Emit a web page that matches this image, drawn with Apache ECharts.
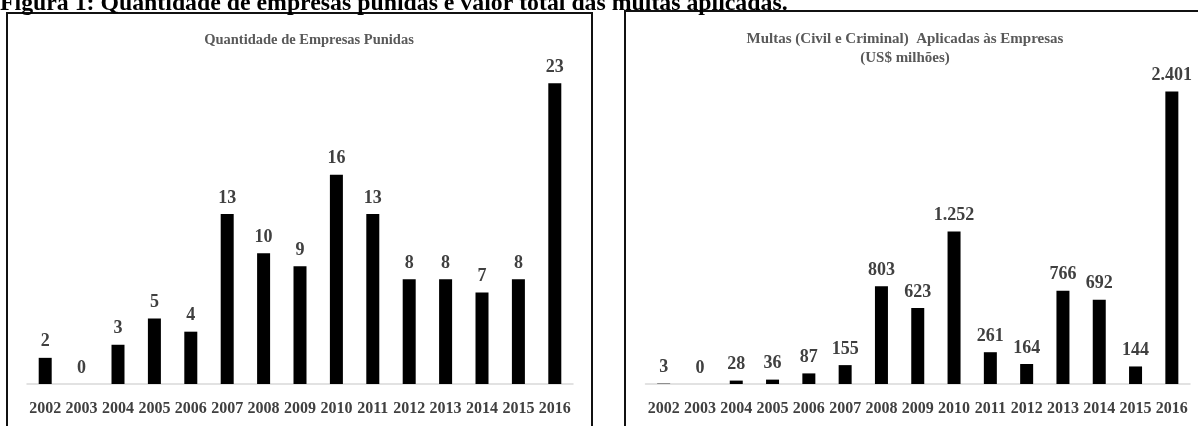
<!DOCTYPE html>
<html>
<head>
<meta charset="utf-8">
<script src="https://cdn.jsdelivr.net/npm/echarts@6/dist/echarts.min.js"></script>
<style>
  html, body { margin: 0; padding: 0; background: #fff; }
  #chart { width: 1198px; height: 426px; }
</style>
</head>
<body>
<div id="chart"></div>
<script>
// Years shown on both category axes
const years = ['2002', '2003', '2004', '2005', '2006', '2007', '2008', '2009',
               '2010', '2011', '2012', '2013', '2014', '2015', '2016'];
// Number of companies punished per year
const punishedCompanies = [2, 0, 3, 5, 4, 13, 10, 9, 16, 13, 8, 8, 7, 8, 23];
// Civil and criminal fines applied, US$ millions
const finesUsdMillions = [3, 0, 28, 36, 87, 155, 803, 623, 1252, 261, 164, 766, 692, 144, 2401];

const caption = 'Figura 1: Quantidade de empresas punidas e valor total das multas aplicadas.';
const leftTitle = 'Quantidade de Empresas Punidas';
const rightTitle = 'Multas (Civil e Criminal)  Aplicadas às Empresas\n(US$ milhões)';

const SERIF = '"Liberation Serif", "Times New Roman", serif';
const fmtThousands = v => String(v).replace(/\B(?=(\d{3})+(?!\d))/g, '.');

const chart = echarts.init(document.getElementById('chart'), null, { renderer: 'canvas' });

function catAxis(gridIndex) {
  return {
    type: 'category', gridIndex, data: years,
    axisLine: { lineStyle: { color: '#d9d9d9', width: 1.5 } },
    axisTick: { show: false },
    axisLabel: { color: '#404040', fontFamily: SERIF, fontWeight: 'bold', fontSize: 16, margin: 17, interval: 0 }
  };
}
function valAxis(gridIndex, max) {
  return { type: 'value', gridIndex, min: 0, max, show: false, splitLine: { show: false } };
}
function barSeries(idx, data, formatter) {
  return {
    type: 'bar', xAxisIndex: idx, yAxisIndex: idx, data,
    barWidth: 13,
    itemStyle: { color: '#000' },
    label: {
      show: true, position: 'top', distance: 7,
      color: '#404040', fontFamily: SERIF, fontWeight: 'bold', fontSize: 18,
      formatter: p => formatter(p.value)
    },
    animation: false
  };
}

chart.setOption({
  animation: false,
  grid: [
    { left: 27, top: 57, width: 546, height: 327 },
    { left: 645.5, top: 67.3, width: 544.5, height: 316.7 }
  ],
  xAxis: [catAxis(0), catAxis(1)],
  yAxis: [valAxis(0, 25), valAxis(1, 2600)],
  series: [
    barSeries(0, punishedCompanies, v => String(v)),
    barSeries(1, finesUsdMillions, fmtThousands)
  ],
  graphic: [
    { type: 'rect', shape: { x: 7, y: 13, width: 585, height: 440 },
      style: { fill: 'none', stroke: '#111', lineWidth: 2 }, silent: true },
    { type: 'rect', shape: { x: 625, y: 11, width: 620, height: 440 },
      style: { fill: 'none', stroke: '#111', lineWidth: 2 }, silent: true },
    { type: 'text', x: 0, y: -8,
      style: { text: caption, font: 'bold 23.8px ' + SERIF, fill: '#000', verticalAlign: 'top' } },
    { type: 'text', x: 309, y: 40,
      style: { text: leftTitle, font: 'bold 14.5px ' + SERIF, fill: '#595959', align: 'center', verticalAlign: 'middle' } },
    { type: 'text', x: 905, y: 49,
      style: { text: rightTitle, font: 'bold 15px ' + SERIF, fill: '#595959', align: 'center', verticalAlign: 'middle', lineHeight: 19 } }
  ]
});
</script>
</body>
</html>
